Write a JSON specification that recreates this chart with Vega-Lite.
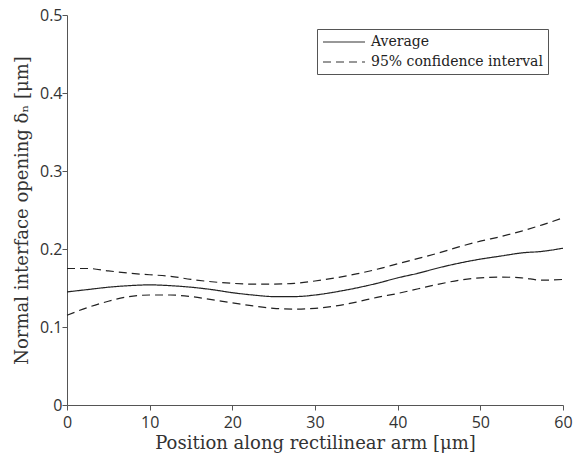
{
  "$schema": "https://vega.github.io/schema/vega-lite/v6.json",
  "width": 496,
  "height": 390,
  "autosize": "none",
  "padding": {"left": 67, "top": 15, "right": 14, "bottom": 57},
  "background": "white",
  "config": {
    "view": {"stroke": null},
    "axis": {
      "grid": false,
      "domainColor": "#555555",
      "labelColor": "#333333",
      "titleColor": "#333333",
      "labelFont": "Open Sans",
      "labelFontSize": 16,
      "titleFont": "DejaVu Serif",
      "titleFontSize": 18,
      "titleFontWeight": "normal",
      "domainWidth": 1
    }
  },
  "data": {
    "values": [
      {"x": 0, "y": 0.145, "series": "avg", "kind": "Average"},
      {"x": 2.5, "y": 0.148, "series": "avg", "kind": "Average"},
      {"x": 5, "y": 0.151, "series": "avg", "kind": "Average"},
      {"x": 7.5, "y": 0.153, "series": "avg", "kind": "Average"},
      {"x": 10, "y": 0.154, "series": "avg", "kind": "Average"},
      {"x": 12.5, "y": 0.153, "series": "avg", "kind": "Average"},
      {"x": 15, "y": 0.151, "series": "avg", "kind": "Average"},
      {"x": 17.5, "y": 0.148, "series": "avg", "kind": "Average"},
      {"x": 20, "y": 0.144, "series": "avg", "kind": "Average"},
      {"x": 22.5, "y": 0.141, "series": "avg", "kind": "Average"},
      {"x": 25, "y": 0.139, "series": "avg", "kind": "Average"},
      {"x": 27.5, "y": 0.139, "series": "avg", "kind": "Average"},
      {"x": 30, "y": 0.141, "series": "avg", "kind": "Average"},
      {"x": 32.5, "y": 0.145, "series": "avg", "kind": "Average"},
      {"x": 35, "y": 0.150, "series": "avg", "kind": "Average"},
      {"x": 37.5, "y": 0.156, "series": "avg", "kind": "Average"},
      {"x": 40, "y": 0.163, "series": "avg", "kind": "Average"},
      {"x": 42.5, "y": 0.169, "series": "avg", "kind": "Average"},
      {"x": 45, "y": 0.176, "series": "avg", "kind": "Average"},
      {"x": 47.5, "y": 0.182, "series": "avg", "kind": "Average"},
      {"x": 50, "y": 0.187, "series": "avg", "kind": "Average"},
      {"x": 52.5, "y": 0.191, "series": "avg", "kind": "Average"},
      {"x": 55, "y": 0.195, "series": "avg", "kind": "Average"},
      {"x": 57.5, "y": 0.197, "series": "avg", "kind": "Average"},
      {"x": 60, "y": 0.201, "series": "avg", "kind": "Average"},
      {"x": 0, "y": 0.175, "series": "upper", "kind": "95% confidence interval"},
      {"x": 2.5, "y": 0.175, "series": "upper", "kind": "95% confidence interval"},
      {"x": 5, "y": 0.172, "series": "upper", "kind": "95% confidence interval"},
      {"x": 7.5, "y": 0.169, "series": "upper", "kind": "95% confidence interval"},
      {"x": 10, "y": 0.167, "series": "upper", "kind": "95% confidence interval"},
      {"x": 12.5, "y": 0.165, "series": "upper", "kind": "95% confidence interval"},
      {"x": 15, "y": 0.161, "series": "upper", "kind": "95% confidence interval"},
      {"x": 17.5, "y": 0.158, "series": "upper", "kind": "95% confidence interval"},
      {"x": 20, "y": 0.156, "series": "upper", "kind": "95% confidence interval"},
      {"x": 22.5, "y": 0.155, "series": "upper", "kind": "95% confidence interval"},
      {"x": 25, "y": 0.155, "series": "upper", "kind": "95% confidence interval"},
      {"x": 27.5, "y": 0.156, "series": "upper", "kind": "95% confidence interval"},
      {"x": 30, "y": 0.159, "series": "upper", "kind": "95% confidence interval"},
      {"x": 32.5, "y": 0.163, "series": "upper", "kind": "95% confidence interval"},
      {"x": 35, "y": 0.168, "series": "upper", "kind": "95% confidence interval"},
      {"x": 37.5, "y": 0.174, "series": "upper", "kind": "95% confidence interval"},
      {"x": 40, "y": 0.181, "series": "upper", "kind": "95% confidence interval"},
      {"x": 42.5, "y": 0.188, "series": "upper", "kind": "95% confidence interval"},
      {"x": 45, "y": 0.195, "series": "upper", "kind": "95% confidence interval"},
      {"x": 47.5, "y": 0.203, "series": "upper", "kind": "95% confidence interval"},
      {"x": 50, "y": 0.210, "series": "upper", "kind": "95% confidence interval"},
      {"x": 52.5, "y": 0.216, "series": "upper", "kind": "95% confidence interval"},
      {"x": 55, "y": 0.223, "series": "upper", "kind": "95% confidence interval"},
      {"x": 57.5, "y": 0.231, "series": "upper", "kind": "95% confidence interval"},
      {"x": 60, "y": 0.240, "series": "upper", "kind": "95% confidence interval"},
      {"x": 0, "y": 0.115, "series": "lower", "kind": "95% confidence interval"},
      {"x": 2.5, "y": 0.125, "series": "lower", "kind": "95% confidence interval"},
      {"x": 5, "y": 0.133, "series": "lower", "kind": "95% confidence interval"},
      {"x": 7.5, "y": 0.139, "series": "lower", "kind": "95% confidence interval"},
      {"x": 10, "y": 0.141, "series": "lower", "kind": "95% confidence interval"},
      {"x": 12.5, "y": 0.141, "series": "lower", "kind": "95% confidence interval"},
      {"x": 15, "y": 0.139, "series": "lower", "kind": "95% confidence interval"},
      {"x": 17.5, "y": 0.135, "series": "lower", "kind": "95% confidence interval"},
      {"x": 20, "y": 0.131, "series": "lower", "kind": "95% confidence interval"},
      {"x": 22.5, "y": 0.127, "series": "lower", "kind": "95% confidence interval"},
      {"x": 25, "y": 0.124, "series": "lower", "kind": "95% confidence interval"},
      {"x": 27.5, "y": 0.123, "series": "lower", "kind": "95% confidence interval"},
      {"x": 30, "y": 0.124, "series": "lower", "kind": "95% confidence interval"},
      {"x": 32.5, "y": 0.127, "series": "lower", "kind": "95% confidence interval"},
      {"x": 35, "y": 0.132, "series": "lower", "kind": "95% confidence interval"},
      {"x": 37.5, "y": 0.138, "series": "lower", "kind": "95% confidence interval"},
      {"x": 40, "y": 0.143, "series": "lower", "kind": "95% confidence interval"},
      {"x": 42.5, "y": 0.149, "series": "lower", "kind": "95% confidence interval"},
      {"x": 45, "y": 0.155, "series": "lower", "kind": "95% confidence interval"},
      {"x": 47.5, "y": 0.160, "series": "lower", "kind": "95% confidence interval"},
      {"x": 50, "y": 0.163, "series": "lower", "kind": "95% confidence interval"},
      {"x": 52.5, "y": 0.164, "series": "lower", "kind": "95% confidence interval"},
      {"x": 55, "y": 0.163, "series": "lower", "kind": "95% confidence interval"},
      {"x": 57.5, "y": 0.160, "series": "lower", "kind": "95% confidence interval"},
      {"x": 60, "y": 0.161, "series": "lower", "kind": "95% confidence interval"}
    ]
  },
  "mark": {"type": "line", "interpolate": "monotone", "color": "#222222", "strokeWidth": 1.2},
  "encoding": {
    "x": {
      "field": "x", "type": "quantitative",
      "scale": {"domain": [0, 60], "nice": false, "zero": false},
      "axis": {
        "tickCount": 6, "title": "Position along rectilinear arm [μm]",
        "ticks": true, "tickSize": 5, "tickColor": "#555555", "tickWidth": 1,
        "labelPadding": 4, "titlePadding": 4, "labelFlush": false,
        "encode": {"ticks": {"update": {"y2": {"value": -5}}}}
      }
    },
    "y": {
      "field": "y", "type": "quantitative",
      "scale": {"domain": [0, 0.5], "nice": false},
      "axis": {
        "tickCount": 5, "format": "~g", "title": "Normal interface opening δₙ [μm]",
        "ticks": true, "tickSize": 5, "tickColor": "#555555", "tickWidth": 1,
        "labelPadding": 0, "titlePadding": 8, "labelFlush": false,
        "encode": {"ticks": {"update": {"x2": {"value": 5}}}}
      }
    },
    "detail": {"field": "series"},
    "strokeDash": {
      "field": "kind", "type": "nominal",
      "scale": {"domain": ["Average", "95% confidence interval"], "range": [[1, 0], [8, 5]]},
      "legend": {
        "title": null,
        "orient": "none",
        "legendX": 250,
        "legendY": 14,
        "direction": "vertical",
        "strokeColor": "#555555",
        "fillColor": "white",
        "padding": 5,
        "symbolType": "M-1,0H5",
        "symbolSize": 196,
        "symbolStrokeColor": "#333333",
        "symbolStrokeWidth": 1.2,
        "labelFont": "DejaVu Serif",
        "labelFontSize": 14,
        "labelLimit": 300,
        "labelColor": "#222222",
        "labelOffset": 33,
        "rowPadding": 5
      }
    }
  }
}
